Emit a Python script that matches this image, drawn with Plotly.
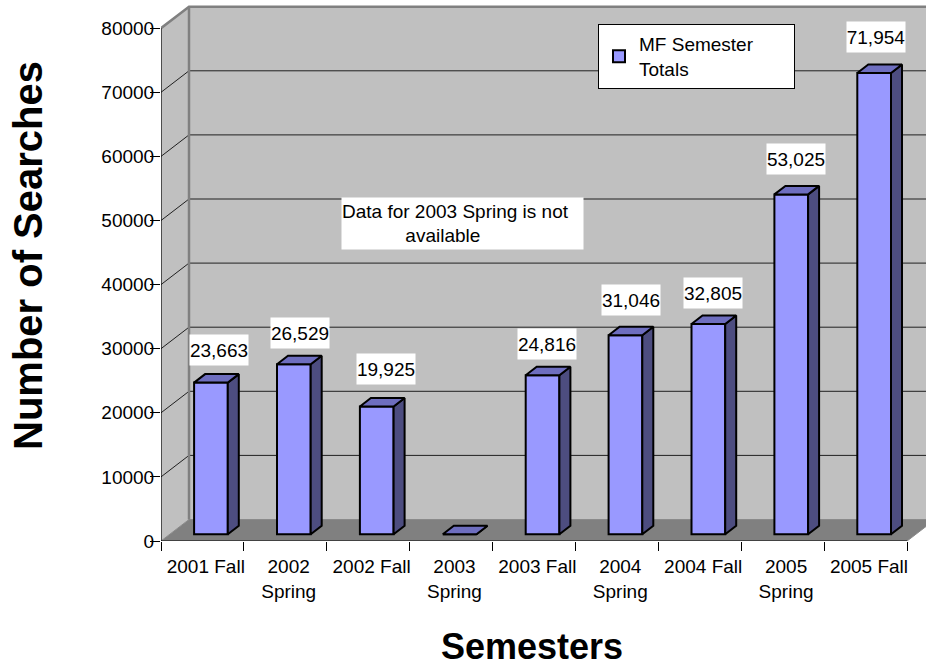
import plotly.graph_objects as go

# ---- data ----
semesters = ["2001 Fall", "2002<br>Spring", "2002 Fall", "2003<br>Spring", "2003 Fall",
             "2004<br>Spring", "2004 Fall", "2005<br>Spring", "2005 Fall"]
searches = [23663, 26529, 19925, 0, 24816, 31046, 32805, 53025, 71954]
series_name = "MF Semester<br>Totals"
y_ticks = [0, 10000, 20000, 30000, 40000, 50000, 60000, 70000, 80000]
note_text = "Data for 2003 Spring is not<br>" + "&nbsp;" * 12 + "available"
x_title = "Semesters"
y_title = "Number of Searches"

# ---- pixel scale of the chart and 3-D look (styling only) ----
W, H = 926, 668
LEFT, BOTTOM, TOP = 161, 541, 2
CAT_PX = 82.9
VAL_PX = 0.00641
n = len(searches)


def dx(px):
    return px / CAT_PX


def dy(px):
    return px / VAL_PX


x_max = (W - LEFT) / CAT_PX
y_max = dy(BOTTOM - TOP)
wall_dx, wall_dy = dx(28), dy(21.5)
bar_shift, bar_base = dx(8.5), dy(6.7)
bar_w = dx(33.7)
depth_x, depth_y = dx(11), dy(8.5)
label_dx = [8.5, 6, 9, 0, 4.5, 6, 5, 5, 1.5]
label_dy = [32.6, 31.5, 37.6, 0, 31.2, 35.3, 31, 35.4, 36.1]

FONT = "Liberation Sans"
WALL, FLOOR, EDGE = "#C0C0C0", "#808080", "#808080"
FRONT, SIDE, CAP = "#9999FF", "#4D4D80", "#6E6EBF"

centers = [i + 0.5 + bar_shift for i in range(n)]
tops = [bar_base + v for v in searches]

side_x, side_y, cap_x, cap_y = [], [], [], []
for c, t in zip(centers, tops):
    l, r = c - bar_w / 2, c + bar_w / 2
    side_x += [r, r + depth_x, r + depth_x, r, r, None]
    side_y += [bar_base, bar_base + depth_y, t + depth_y, t, bar_base, None]
    cap_x += [l, r, r + depth_x, l + depth_x, l, None]
    cap_y += [t, t, t + depth_y, t + depth_y, t, None]

fig = go.Figure()
fig.add_bar(x=centers, y=searches, base=bar_base, width=bar_w, name=series_name,
            marker=dict(color=FRONT, line=dict(color="black", width=2)),
            hoverinfo="skip")
for xs, ys, col in [(side_x, side_y, SIDE), (cap_x, cap_y, CAP)]:
    fig.add_scatter(x=xs, y=ys, mode="lines", fill="toself", fillcolor=col,
                    line=dict(color="black", width=2), showlegend=False, hoverinfo="skip")


def poly(pts):
    return "M " + " L ".join(f"{a} {b}" for a, b in pts) + " Z"


shapes = [
    dict(type="path", path=poly([(0, 0), (wall_dx, wall_dy), (wall_dx, y_ticks[-1] + wall_dy), (0, y_ticks[-1])]),
         fillcolor=WALL, line_width=0),
    dict(type="path", path=poly([(wall_dx, wall_dy), (n + wall_dx, wall_dy),
                                 (n + wall_dx, y_ticks[-1] + wall_dy), (wall_dx, y_ticks[-1] + wall_dy)]),
         fillcolor=WALL, line_width=0),
    dict(type="path", path=poly([(0, 0), (wall_dx, wall_dy), (n + wall_dx, wall_dy), (n, 0)]),
         fillcolor=FLOOR, line=dict(color="#8A8A8A", width=1)),
]
for v in y_ticks[1:-1]:
    shapes.append(dict(type="path", path=f"M 0 {v} L {wall_dx} {v + wall_dy} L {n + wall_dx} {v + wall_dy}",
                       line=dict(color="#202020", width=1)))
shapes.append(dict(type="path", path=(f"M 0 {y_ticks[-1]} L {wall_dx} {y_ticks[-1] + wall_dy} "
                                      f"L {n + wall_dx} {y_ticks[-1] + wall_dy} "
                                      f"M {wall_dx} {y_ticks[-1] + wall_dy} L {wall_dx} {wall_dy}"),
                   line=dict(color=EDGE, width=2.5)))
shapes.append(dict(type="path", path=f"M 0 {y_ticks[-1]} L 0 0 L {n} 0", line=dict(color="black", width=1.2)))
for s in shapes:
    s.update(xref="x", yref="y", layer="below")

annotations = []
for c, t, v, ldx, ldy in zip(centers, tops, searches, label_dx, label_dy):
    if v:
        annotations.append(dict(x=c, y=t, xref="x", yref="y", text=f"{v:,}", showarrow=False,
                                xshift=ldx, yshift=ldy, width=58, height=30, bgcolor="white",
                                borderpad=0, font=dict(family=FONT, size=19, color="black")))
annotations.append(dict(x=(462.5 - LEFT) / (W - LEFT), y=(BOTTOM - 223.5) / (BOTTOM - TOP),
                        xref="paper", yref="paper", xanchor="center", yanchor="middle",
                        text=note_text, showarrow=False, align="left",
                        width=241, height=51, bgcolor="white", borderpad=0,
                        font=dict(family=FONT, size=19, color="black")))
annotations.append(dict(x=(532 - LEFT) / (W - LEFT), y=(BOTTOM - 646) / (BOTTOM - TOP),
                        xref="paper", yref="paper", xanchor="center", yanchor="middle",
                        text=f"<b>{x_title}</b>", showarrow=False,
                        font=dict(family=FONT, size=36, color="black")))
annotations.append(dict(x=(28 - LEFT) / (W - LEFT), y=(BOTTOM - 256) / (BOTTOM - TOP),
                        xref="paper", yref="paper", xanchor="center", yanchor="middle",
                        text=f"<b>{y_title}</b>", showarrow=False,
                        textangle=-90, font=dict(family=FONT, size=40, color="black")))

fig.update_layout(
    width=W, height=H,
    margin=dict(l=LEFT, r=0, t=TOP, b=H - BOTTOM, pad=0, autoexpand=False),
    paper_bgcolor="white", plot_bgcolor="white",
    font=dict(family=FONT, size=19, color="black"),
    shapes=shapes, annotations=annotations,
    showlegend=True,
    legend=dict(x=(598 - LEFT) / (W - LEFT), y=(BOTTOM - 24) / (BOTTOM - TOP), xanchor="left", yanchor="top",
                orientation="h", bgcolor="white", bordercolor="black", borderwidth=1,
                entrywidth=150, entrywidthmode="pixels", font=dict(family=FONT, size=19, color="black")),
    xaxis=dict(range=[0, x_max], tickmode="array", tickvals=[i + 0.54 for i in range(n)], ticktext=semesters,
               ticks="", showgrid=False, zeroline=False, showline=False, ticklabelstandoff=12,
               tickfont=dict(family=FONT, size=19), tickangle=0,
               minor=dict(tick0=0, dtick=1, ticks="outside", ticklen=9, tickcolor="black", tickwidth=1, showgrid=False)),
    yaxis=dict(range=[0, y_max], tickmode="array", tickvals=y_ticks, tickformat="d",
               ticks="outside", ticklen=10, tickcolor="black", tickwidth=1, ticklabelstandoff=-8,
               showgrid=False, zeroline=False, showline=False, tickfont=dict(family=FONT, size=19)),
)

fig.write_html("out.html", config={"displayModeBar": False},
               post_script="document.body.style.margin='0';document.body.style.overflow='hidden';")
